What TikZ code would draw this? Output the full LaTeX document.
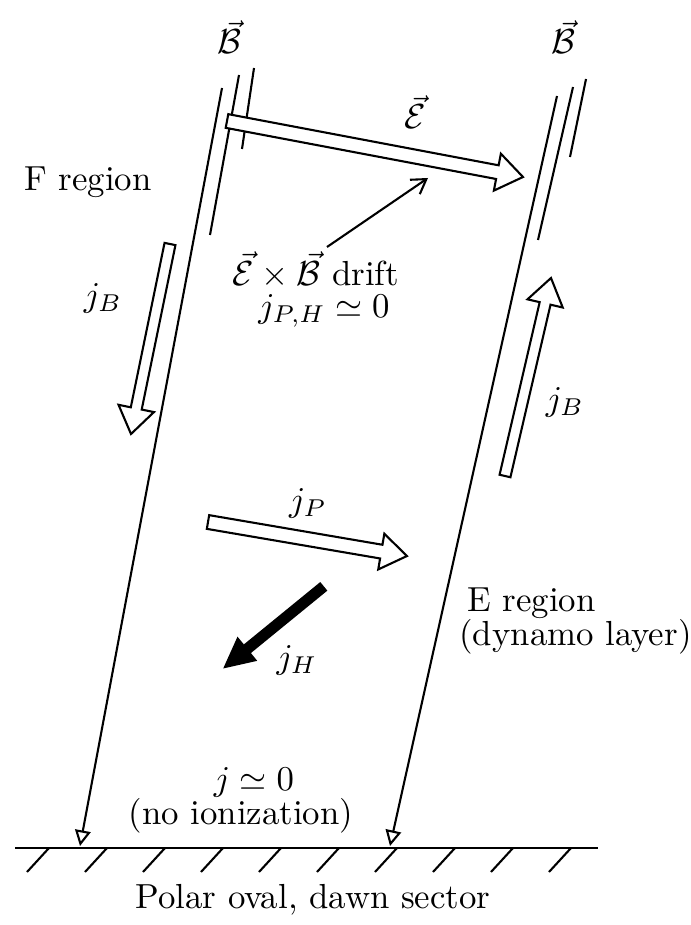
\documentclass[tikz,border=0pt]{standalone}
\usepackage{amsmath}
\usetikzlibrary{arrows.meta,calc}

\tikzset{
  fline/.style={line width=0.6pt},
  fieldline/.style={line width=0.6pt, -{Triangle[open,length=4.5pt,width=4.5pt]}},
  blockarrow/.style={draw, line width=0.6pt, fill=white, line join=miter},
  driftarrow/.style={line width=0.6pt, -{Straight Barb[length=4pt,width=5pt]}},
  lbl/.style={inner sep=0.5pt},
}

% hollow block arrow: [style]{tail}{tip}{half shaft}{half head}{head length}
\newcommand{\fatarrow}[6][blockarrow]{%
  \coordinate (fa-b) at ($(#3)!#6!(#2)$);
  \draw[#1] ($(#2)!#4!90:(#3)$) -- ($(fa-b)!#4!-90:(#2)$) -- ($(fa-b)!#5!-90:(#2)$)
    -- (#3) -- ($(fa-b)!#5!90:(#2)$) -- ($(fa-b)!#4!90:(#2)$) -- ($(#2)!#4!-90:(#3)$) -- cycle;
}

\begin{document}
\begin{tikzpicture}[x=0.2874pt, y=-0.2874pt]
\useasboundingbox (0,0) rectangle (691,925);

% Magnetic field lines
\coordinate (la-top) at (222,88);
\coordinate (la-bot) at (80,846);
\coordinate (lb-top) at (239,75);
\coordinate (lb-bot) at (210,235);
\coordinate (lc-top) at (254,68);
\coordinate (lc-bot) at (242,149);
\coordinate (ra-top) at (557,96);
\coordinate (ra-bot) at (390,846);
\coordinate (rb-top) at (573,87);
\coordinate (rb-bot) at (538,240);
\coordinate (rc-top) at (586,79);
\coordinate (rc-bot) at (570,157);

\draw[fieldline] (la-top) -- (la-bot);
\draw[fline] (lb-top) -- (lb-bot);
\draw[fline] (lc-top) -- (lc-bot);
\draw[fieldline] (ra-top) -- (ra-bot);
\draw[fline] (rb-top) -- (rb-bot);
\draw[fline] (rc-top) -- (rc-bot);

\node[lbl] (bleft) at (229,37) {$\vec{\mathcal{B}}$};
\node[lbl] (bright) at (563,37) {$\vec{\mathcal{B}}$};

% Ground
\coordinate (g-l) at (15,848);
\coordinate (g-r) at (598,848);
\draw[fline] (g-l) -- (g-r);
\foreach \i in {0,...,9}
  \draw[fline] (49+58*\i,848) -- ++(-22,24);
\node[lbl] (oval) at (313,900) {Polar oval, dawn sector};

% Electric field
\coordinate (e-tail) at (227,121);
\coordinate (e-tip) at (523,177);
\fatarrow{e-tail}{e-tip}{2pt}{5.4pt}{7.5pt}
\node[lbl] (elbl) at (415,112) {$\vec{\mathcal{E}}$};

% Drift
\node[lbl] (drift) at (316,270) {$\vec{\mathcal{E}}\times\vec{\mathcal{B}}$ drift};
\node[lbl] (jph) at (324,311) {$j_{P,H}\simeq 0$};
\coordinate (d-s) at (327,247);
\coordinate (d-t) at (428,178);
\draw[driftarrow] (d-s) -- (d-t);

% F region
\node[lbl] (freg) at (88,182) {F region};
\coordinate (jbl-tail) at (170,244);
\coordinate (jbl-tip) at (131,434);
\fatarrow{jbl-tail}{jbl-tip}{1.6pt}{5.2pt}{7.5pt}
\node[lbl] (jbl) at (103,298) {$j_B$};

% Right field-aligned current
\coordinate (jbr-tail) at (505,476);
\coordinate (jbr-tip) at (551,278);
\fatarrow{jbr-tail}{jbr-tip}{1.6pt}{5.2pt}{7.5pt}
\node[lbl] (jbr) at (565,402) {$j_B$};

% E region currents
\coordinate (jp-tail) at (208,522);
\coordinate (jp-tip) at (407,556);
\fatarrow{jp-tail}{jp-tip}{2pt}{5.2pt}{7.5pt}
\node[lbl] (jp) at (308,503) {$j_P$};

\coordinate (jh-tail) at (323,587);
\coordinate (jh-tip) at (225,667);
\fatarrow[draw, fill=black, line width=0.6pt]{jh-tail}{jh-tip}{1.3pt}{4pt}{8pt}
\node[lbl] (jh) at (297,660) {$j_H$};

\node[lbl, anchor=west] (ereg) at (465,603) {E region};
\node[lbl, anchor=west] (dyn) at (457,637) {(dynamo layer)};

% Bottom
\node[lbl] (jzero) at (254,782) {$j\simeq 0$};
\node[lbl] (noion) at (241,816) {(no ionization)};

\end{tikzpicture}
\end{document}
